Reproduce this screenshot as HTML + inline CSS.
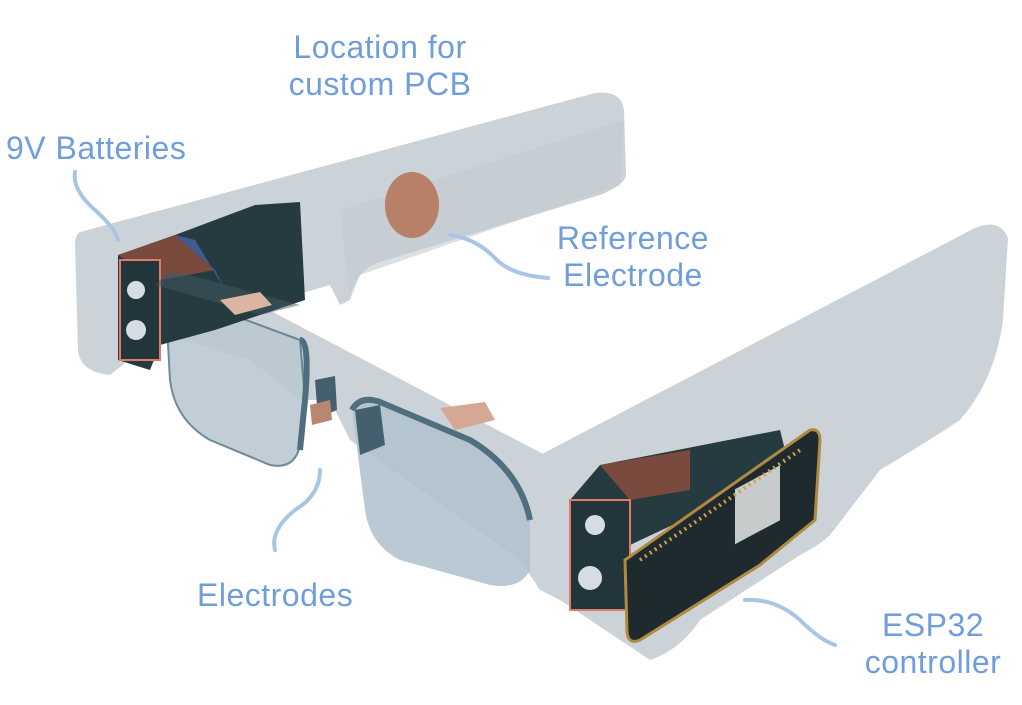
<!DOCTYPE html>
<html><head><meta charset="utf-8"><style>
html,body{margin:0;padding:0;background:#fff;}
svg{display:block}
text{font-family:"Liberation Sans",sans-serif;font-size:32px;fill:#6f9edb;letter-spacing:0.5px}
</style></head><body>
<svg width="1022" height="705" viewBox="0 0 1022 705" xmlns="http://www.w3.org/2000/svg">
<path d="M80,232 L595,93 Q622,90 624,110 L626,175 Q625,185 600,195 L380,262 Q355,270 350,300 L340,305 L330,285 L160,335 L110,375 Q80,372 78,350 L75,245 Q75,235 80,232 Z" fill="#ccd3d8"/>
<path d="M340,210 L350,300 L360,275 L620,185 L624,120 Z" fill="#c3cbd1" opacity="0.6"/>
<path d="M540,455 L975,228 Q1000,218 1008,238 L1003,320 Q995,380 960,420 Q930,440 880,470 L830,535 Q820,545 800,555 L700,620 Q680,650 650,660 L560,600 Z" fill="#ccd3d8"/>
<path d="M150,285 L250,300 L545,455 L570,490 L560,600 L540,590 L520,560 L350,440 L330,400 L300,400 L250,360 L150,330 Z" fill="#ccd3d8"/>
<path d="M165,290 L300,340 L305,400 Q300,410 300,445 Q295,470 270,465 L210,440 Q175,420 170,380 Z" fill="#bcc9d1" stroke="#5f7f8f" stroke-width="2" opacity="0.9"/>
<path d="M352,410 Q360,395 380,402 L470,440 Q520,470 530,520 L530,570 Q520,590 490,585 L400,560 Q370,545 365,510 Z" fill="#b3c3ce" opacity="0.9"/>
<path d="M352,410 Q360,395 380,402 L470,440 Q520,470 530,520" fill="none" stroke="#4f6e7e" stroke-width="6"/>
<path d="M300,340 Q310,340 305,400 L300,450" fill="none" stroke="#4f6e7e" stroke-width="6"/>
<path d="M118,255 L175,235 L255,205 L300,202 L305,300 L215,330 L160,345 L150,370 L118,360 Z" fill="#263b3f"/>
<path d="M118,255 L175,235 L215,270 L160,280 Z" fill="#7a4a3e"/>
<path d="M175,235 L195,240 L225,290 L215,270 Z" fill="#3e5c92"/>
<rect x="120" y="260" width="40" height="100" fill="#22353a" stroke="#e07a6a" stroke-width="2"/>
<circle cx="136" cy="290" r="9" fill="#d6dde2"/>
<circle cx="136" cy="330" r="10" fill="#d6dde2"/>
<path d="M155,285 L260,315 L300,305 L170,270 Z" fill="#3f5a66" opacity="0.5"/>
<path d="M220,300 L260,292 L272,305 L235,315 Z" fill="#dcb4a2"/>
<ellipse cx="412" cy="205" rx="27" ry="33" fill="#b88069"/>
<path d="M315,380 L335,376 L337,410 L318,418 Z" fill="#44606e"/>
<path d="M310,405 L330,400 L332,420 L312,425 Z" fill="#b98671"/>
<path d="M355,410 L380,405 L385,445 L360,455 Z" fill="#44606e"/>
<path d="M440,408 L485,402 L495,420 L455,430 Z" fill="#d4a894"/>
<path d="M570,500 L600,465 L780,430 L790,470 L630,545 L630,610 L575,605 Z" fill="#263b3f"/>
<path d="M600,465 L690,450 L690,490 L630,500 Z" fill="#7a4a3e"/>
<rect x="570" y="500" width="60" height="110" fill="#22353a" stroke="#e07a6a" stroke-width="2"/>
<circle cx="595" cy="525" r="10" fill="#d6dde2"/>
<circle cx="590" cy="578" r="12" fill="#d6dde2"/>
<path d="M625,560 L810,430 Q820,428 820,440 L815,520 L760,565 L640,640 Q628,645 627,632 Z" fill="#1e2a2e" stroke="#b08a40" stroke-width="3"/>
<rect x="735" y="480" width="45" height="55" fill="#c8cbcc" transform="skewY(-28) translate(0,400)"/>
<path d="M640,560 L800,450" stroke="#c9a14a" stroke-width="4" stroke-dasharray="2 4"/>
<g fill="none" stroke="#a9c5e6" stroke-width="4" stroke-linecap="round">
<path d="M75,172 Q72,190 95,210 Q115,228 118,240"/>
<path d="M548,278 Q510,275 495,258 Q475,238 450,235"/>
<path d="M320,470 Q320,495 295,510 Q270,530 275,550"/>
<path d="M745,600 Q775,598 800,620 Q820,640 835,645"/>
</g>
<text x="380" y="58" text-anchor="middle">Location for</text>
<text x="380" y="95" text-anchor="middle">custom PCB</text>
<text x="6" y="159">9V Batteries</text>
<text x="633" y="249" text-anchor="middle">Reference</text>
<text x="633" y="286" text-anchor="middle">Electrode</text>
<text x="197" y="606">Electrodes</text>
<text x="933" y="636" text-anchor="middle">ESP32</text>
<text x="933" y="673" text-anchor="middle">controller</text>
</svg>
</body></html>
